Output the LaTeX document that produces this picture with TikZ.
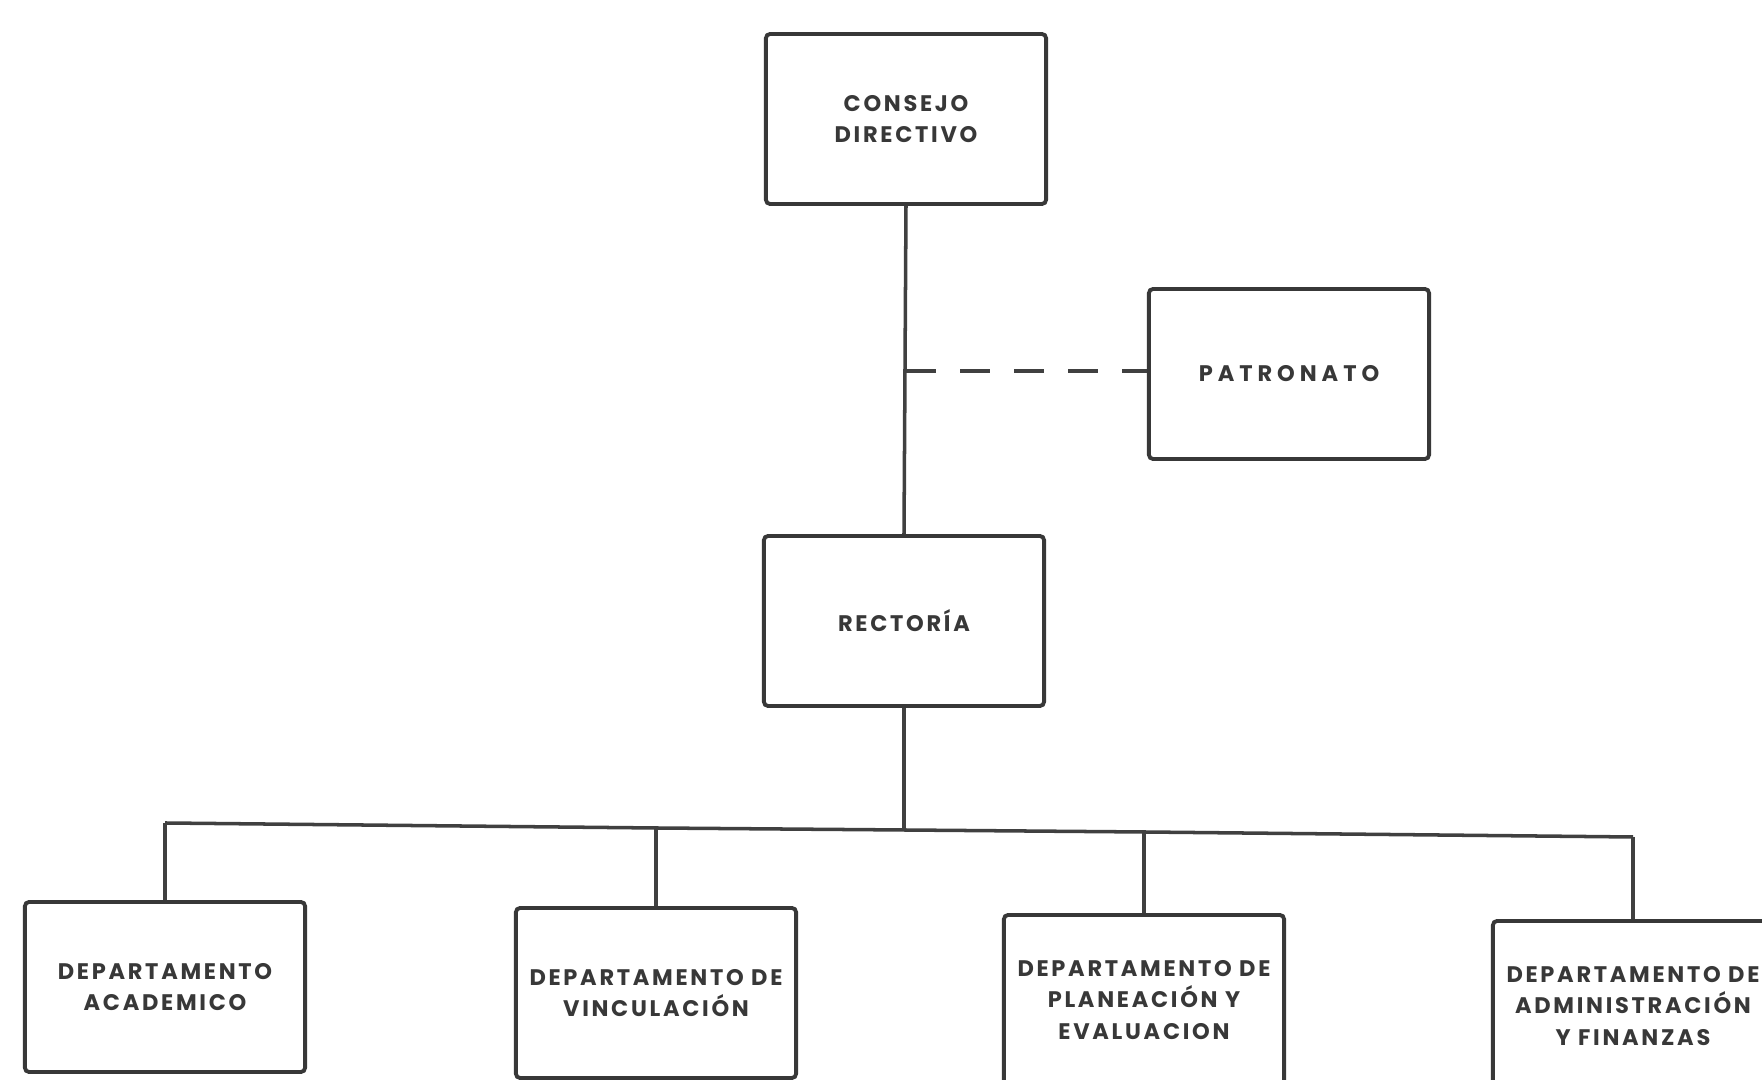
\documentclass[tikz,border=0pt]{standalone}
\usepackage{fontspec}
\setmainfont{Poppins}
\newfontfamily\orgfont[LetterSpace=12]{Poppins}
\begin{document}
\begin{tikzpicture}[x=0.01cm,y=-0.01cm,
  orgbox/.style={draw=black!78,line width=1.1pt,rounded corners=1.2pt,fill=white,
    minimum width=2.8cm,minimum height=1.7cm,align=center,inner sep=0pt,
    font=\orgfont\bfseries\fontsize{6.4}{9}\selectfont,text=black!78},
  link/.style={draw=black!75,line width=1pt},
  dashlink/.style={draw=black!75,line width=0.9pt,dash pattern=on 0.3cm off 0.24cm}]
\useasboundingbox (0,0) rectangle (1762,1080);
\clip (0,0) rectangle (1762,1080);
% main nodes
\node[orgbox] (cons) at (906,119) {CONSEJO\\DIRECTIVO};
\node[orgbox] (patr) at (1289,374) {\addfontfeature{LetterSpace=22}PATRONATO};
\node[orgbox] (rect) at (904,621) {RECTORÍA};
\node[orgbox] (d1) at (165,987) {DEPARTAMENTO\\ACADEMICO};
\node[orgbox] (d2) at (656,993) {DEPARTAMENTO DE\\VINCULACIÓN};
\node[orgbox] (d3) at (1144,1000) {DEPARTAMENTO DE\\PLANEACIÓN Y\\EVALUACION};
\node[orgbox] (d4) at (1633,1006) {DEPARTAMENTO DE\\ADMINISTRACIÓN\\Y FINANZAS};
% bus coordinates
\coordinate (b1) at (165,823);
\coordinate (b2) at (656,828);
\coordinate (bc) at (904,830);
\coordinate (b3) at (1144,832);
\coordinate (b4) at (1633,837);
\coordinate (pj) at (906,371);
% connectors
\draw[link] (cons.south) -- (rect.north);
\draw[dashlink] (pj) -- (patr.west |- pj);
\draw[link] (rect.south) -- (bc);
\draw[link] (b1) -- (b2) -- (bc) -- (b3) -- (b4);
\draw[link] (b1) -- (d1.north);
\draw[link] (b2) -- (d2.north);
\draw[link] (b3) -- (d3.north);
\draw[link] (b4) -- (d4.north);
\end{tikzpicture}
\end{document}
